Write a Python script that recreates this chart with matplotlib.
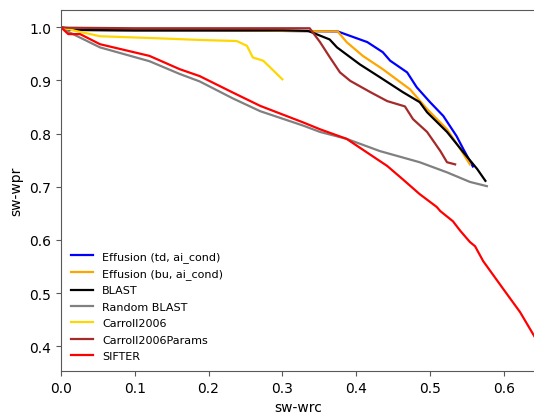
import matplotlib
matplotlib.use('Agg')
import matplotlib.pyplot as plt

# curves (sw-wrc, sw-wpr)
td_x = [0.0, 0.01, 0.1, 0.2, 0.3, 0.375, 0.415, 0.436, 0.446, 0.469, 0.482, 0.5, 0.518, 0.536, 0.545, 0.558]
td_y = [1.0, 0.995, 0.994, 0.994, 0.993, 0.992, 0.972, 0.953, 0.937, 0.915, 0.887, 0.859, 0.833, 0.795, 0.771, 0.738]

bu_x = [0.0, 0.01, 0.1, 0.2, 0.3, 0.375, 0.387, 0.409, 0.436, 0.473, 0.496, 0.523, 0.541, 0.554]
bu_y = [1.0, 0.995, 0.994, 0.994, 0.993, 0.992, 0.972, 0.946, 0.921, 0.883, 0.846, 0.808, 0.771, 0.742]

blast_x = [0.0, 0.01, 0.1, 0.2, 0.3, 0.335, 0.364, 0.374, 0.405, 0.432, 0.463, 0.486, 0.496, 0.523, 0.545, 0.564, 0.575]
blast_y = [1.0, 0.995, 0.994, 0.994, 0.994, 0.993, 0.977, 0.962, 0.930, 0.906, 0.878, 0.859, 0.840, 0.803, 0.765, 0.733, 0.711]

rand_x = [0.0, 0.012, 0.053, 0.12, 0.161, 0.188, 0.233, 0.27, 0.328, 0.351, 0.387, 0.432, 0.486, 0.523, 0.554, 0.577]
rand_y = [1.0, 0.99, 0.962, 0.936, 0.912, 0.898, 0.866, 0.842, 0.815, 0.803, 0.790, 0.767, 0.746, 0.727, 0.709, 0.701]

car_x = [0.0, 0.02, 0.053, 0.134, 0.188, 0.238, 0.252, 0.26, 0.274, 0.283, 0.3]
car_y = [1.0, 0.993, 0.983, 0.979, 0.976, 0.974, 0.965, 0.943, 0.937, 0.925, 0.902]

carp_x = [0.0, 0.01, 0.1, 0.2, 0.3, 0.337, 0.351, 0.364, 0.378, 0.392, 0.419, 0.442, 0.466, 0.477, 0.496, 0.514, 0.523, 0.534]
carp_y = [1.0, 0.999, 0.998, 0.998, 0.998, 0.998, 0.972, 0.944, 0.915, 0.899, 0.878, 0.861, 0.851, 0.827, 0.803, 0.767, 0.746, 0.742]

sif_x = [0.0, 0.01, 0.026, 0.053, 0.12, 0.161, 0.188, 0.233, 0.27, 0.328, 0.351, 0.387, 0.401, 0.442, 0.463, 0.486, 0.509,
         0.514, 0.531, 0.541, 0.554, 0.561, 0.572, 0.599, 0.622, 0.642]
sif_y = [1.0, 0.987, 0.987, 0.968, 0.946, 0.921, 0.908, 0.877, 0.852, 0.821, 0.808, 0.790, 0.777, 0.739, 0.714, 0.686, 0.662,
         0.654, 0.635, 0.617, 0.596, 0.588, 0.560, 0.508, 0.464, 0.417]

series = [
    ('Effusion (td, ai_cond)', td_x, td_y, 'blue'),
    ('Effusion (bu, ai_cond)', bu_x, bu_y, 'orange'),
    ('BLAST', blast_x, blast_y, 'black'),
    ('Random BLAST', rand_x, rand_y, 'grey'),
    ('Carroll2006', car_x, car_y, 'gold'),
    ('Carroll2006Params', carp_x, carp_y, 'brown'),
    ('SIFTER', sif_x, sif_y, 'red'),
]

fig = plt.figure(figsize=(5.34, 4.14), dpi=100)
ax = fig.add_axes([0.114, 0.101, 0.889, 0.872])

for label, xs, ys, color in series:
    ax.plot(xs, ys, color=color, lw=1.6, label=label)

ax.set_xlim(0, 0.643)
ax.set_ylim(0.353, 1.032)
ax.set_xticks([0.0, 0.1, 0.2, 0.3, 0.4, 0.5, 0.6])
ax.set_yticks([0.4, 0.5, 0.6, 0.7, 0.8, 0.9, 1.0])
ax.set_xlabel('sw-wrc')
ax.set_ylabel('sw-wpr')

for s in ax.spines.values():
    s.set_color('0.35')
ax.spines['right'].set_visible(False)
ax.tick_params(color='0.35')

ax.legend(loc='lower left', fontsize=8, frameon=False, labelspacing=0.58)

plt.savefig('out.png', dpi=100)
